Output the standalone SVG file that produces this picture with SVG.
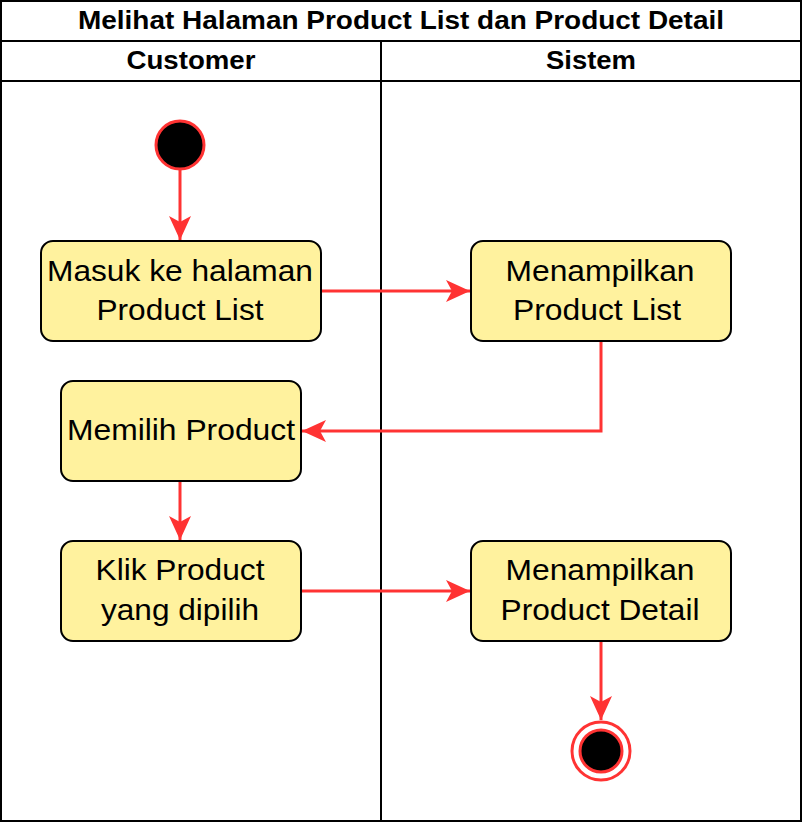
<svg xmlns="http://www.w3.org/2000/svg" width="802" height="824" viewBox="0 0 802 824">
<style>
.lane{fill:#fff;stroke:#000;stroke-width:2}
.hdr{font-family:"Liberation Sans",Arial,sans-serif;font-weight:bold;font-size:25px;text-anchor:middle;fill:#000}
.node{fill:#FFF29E;stroke:#000;stroke-width:2}
.lbl{font-family:"Liberation Sans",Arial,sans-serif;font-size:30px;text-anchor:middle;fill:#000}
.edge{fill:none;stroke:#FF3333;stroke-width:3}
</style>
<defs>
<marker id="arr" markerUnits="userSpaceOnUse" markerWidth="26" markerHeight="26" viewBox="0 0 26 26" refX="24" refY="13" orient="auto">
<path d="M0,2 L24,13 L0,24 L6,13 Z" fill="#FF3333"/>
</marker>
</defs>
<g id="pool">
<rect class="lane" x="1" y="1" width="800" height="820"/>
<line x1="1" y1="41" x2="801" y2="41" stroke="#000" stroke-width="2"/>
<line x1="1" y1="81" x2="801" y2="81" stroke="#000" stroke-width="2"/>
<line x1="381" y1="41" x2="381" y2="821" stroke="#000" stroke-width="2"/>
<text class="hdr" x="401" y="29" textLength="646" lengthAdjust="spacingAndGlyphs">Melihat Halaman Product List dan Product Detail</text>
<text class="hdr" x="191" y="69" textLength="129" lengthAdjust="spacingAndGlyphs">Customer</text>
<text class="hdr" x="591" y="69" textLength="90" lengthAdjust="spacingAndGlyphs">Sistem</text>
</g>
<g id="connectors">
<line class="edge" x1="180" y1="169" x2="180" y2="240" marker-end="url(#arr)"/>
<line class="edge" x1="321" y1="291" x2="470" y2="291" marker-end="url(#arr)"/>
<polyline class="edge" points="601,341 601,431 302,431" marker-end="url(#arr)"/>
<line class="edge" x1="180" y1="481" x2="180" y2="540" marker-end="url(#arr)"/>
<line class="edge" x1="301" y1="591" x2="470" y2="591" marker-end="url(#arr)"/>
<line class="edge" x1="601" y1="641" x2="601" y2="720" marker-end="url(#arr)"/>
</g>
<g id="start">
<circle cx="180" cy="145" r="24" fill="#000" stroke="#FF3333" stroke-width="3"/>
</g>
<g id="masuk">
<rect class="node" x="41" y="241" width="280" height="100" rx="12"/>
<text class="lbl" x="180" y="281" textLength="266" lengthAdjust="spacingAndGlyphs">Masuk ke halaman</text>
<text class="lbl" x="180" y="320" textLength="167" lengthAdjust="spacingAndGlyphs">Product List</text>
</g>
<g id="tampil-list">
<rect class="node" x="471" y="241" width="260" height="100" rx="12"/>
<text class="lbl" x="600" y="281" textLength="189" lengthAdjust="spacingAndGlyphs">Menampilkan</text>
<text class="lbl" x="597" y="320" textLength="168" lengthAdjust="spacingAndGlyphs">Product List</text>
</g>
<g id="memilih">
<rect class="node" x="61" y="381" width="240" height="100" rx="12"/>
<text class="lbl" x="181" y="440" textLength="228" lengthAdjust="spacingAndGlyphs">Memilih Product</text>
</g>
<g id="klik">
<rect class="node" x="61" y="541" width="240" height="100" rx="12"/>
<text class="lbl" x="180" y="580" textLength="169" lengthAdjust="spacingAndGlyphs">Klik Product</text>
<text class="lbl" x="180" y="620" textLength="158" lengthAdjust="spacingAndGlyphs">yang dipilih</text>
</g>
<g id="tampil-detail">
<rect class="node" x="471" y="541" width="260" height="100" rx="12"/>
<text class="lbl" x="600" y="580" textLength="189" lengthAdjust="spacingAndGlyphs">Menampilkan</text>
<text class="lbl" x="600" y="620" textLength="199" lengthAdjust="spacingAndGlyphs">Product Detail</text>
</g>
<g id="end">
<circle cx="601" cy="751" r="29" fill="#fff" stroke="#FF3333" stroke-width="3"/>
<circle cx="601" cy="751" r="21" fill="#000" stroke="#FF3333" stroke-width="3"/>
</g>
</svg>
